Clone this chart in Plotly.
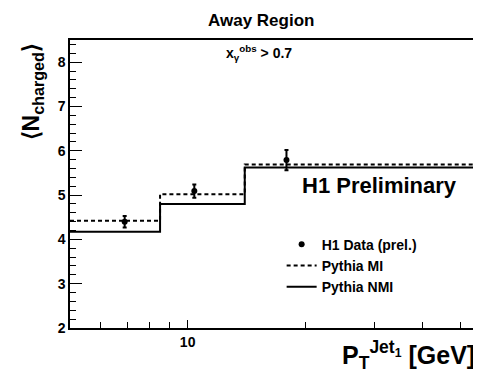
import plotly.graph_objects as go
import math

# Data
bin_edges = [5, 8.5, 14, 55]
nmi_vals = [4.17, 4.80, 5.62]
mi_vals = [4.42, 5.02, 5.69]
data_x = [6.9, 10.4, 17.9]
data_y = [4.40, 5.09, 5.79]
data_err = [0.13, 0.15, 0.23]

x_tick_major = [10]
x_tick_minor = [6, 7, 8, 9, 20, 30, 40, 50]

FONT = "Liberation Sans, Arial, sans-serif"

def step_y(vals):
    return vals + [vals[-1]]

fig = go.Figure()
fig.add_trace(go.Scatter(
    x=data_x, y=data_y, mode="markers",
    marker=dict(color="black", size=6, symbol="circle"),
    error_y=dict(type="data", array=data_err, color="black", thickness=2, width=2),
    name="<b>H1 Data (prel.)</b>",
))
fig.add_trace(go.Scatter(
    x=bin_edges, y=step_y(mi_vals), mode="lines", line_shape="hv",
    line=dict(color="black", width=2, dash="4px,3px"),
    name="<b>Pythia MI</b>",
))
fig.add_trace(go.Scatter(
    x=bin_edges, y=step_y(nmi_vals), mode="lines", line_shape="hv",
    line=dict(color="black", width=2),
    name="<b>Pythia NMI</b>",
))

fig.update_layout(
    width=481, height=374,
    margin=dict(l=62, r=10, t=32, b=54),
    paper_bgcolor="white", plot_bgcolor="white",
    font=dict(family=FONT, color="black"),
    showlegend=True,
    legend=dict(x=0.52, y=0.345, xanchor="left", yanchor="top",
                bgcolor="rgba(0,0,0,0)", font=dict(size=14, family=FONT),
                itemwidth=30, tracegroupgap=0),
    xaxis=dict(
        type="log", range=[math.log10(bin_edges[0]), math.log10(bin_edges[-1])],
        showline=True, linecolor="black", linewidth=1.5, mirror=True,
        showgrid=False, zeroline=False,
        ticks="inside", ticklen=8, tickwidth=1, tickcolor="black",
        tickmode="array", tickvals=x_tick_major, ticktext=["<b>10</b>"],
        tickfont=dict(size=14, family=FONT),
        minor=dict(tickmode="array", tickvals=x_tick_minor, ticks="inside",
                   ticklen=6, tickcolor="black", showgrid=False),
    ),
    yaxis=dict(
        range=[2, 8.5],
        showline=True, linecolor="black", linewidth=1.5, mirror=True,
        showgrid=False, zeroline=False,
        ticks="inside", ticklen=12, tickwidth=1, tickcolor="black",
        tickvals=[2, 3, 4, 5, 6, 7, 8],
        ticktext=["<b>%d</b>" % v for v in [2, 3, 4, 5, 6, 7, 8]],
        tickfont=dict(size=14, family=FONT),
        minor=dict(dtick=0.2, ticks="inside", ticklen=6, tickcolor="black", showgrid=False),
    ),
)

fig.add_annotation(text="<b>Away Region</b>", xref="paper", yref="paper",
                   x=0.47, y=1.0, yshift=20, showarrow=False,
                   font=dict(size=17, family=FONT), xanchor="center", yanchor="middle")
fig.add_annotation(text="<b>x<sub>γ</sub><sup>obs</sup> > 0.7</b>", xref="paper", yref="paper",
                   x=0.465, y=0.955, showarrow=False,
                   font=dict(size=14, family=FONT), xanchor="center", yanchor="middle")
fig.add_annotation(text="<b>H1 Preliminary</b>", xref="paper", yref="paper",
                   x=0.955, y=0.495, showarrow=False,
                   font=dict(size=22, family=FONT), xanchor="right", yanchor="middle")
fig.add_annotation(text="<b>P<sub>T</sub><sup>Jet<sub>1</sub></sup> [GeV]</b>", xref="paper", yref="paper",
                   x=1.0, y=-0.095, showarrow=False,
                   font=dict(size=25, family=FONT), xanchor="right", yanchor="middle")
fig.add_annotation(text="<b>⟨N<sub>charged</sub>⟩</b>", xref="paper", yref="paper",
                   x=-0.092, y=0.82, showarrow=False, textangle=-90,
                   font=dict(size=23, family=FONT), xanchor="center", yanchor="middle")

fig.write_html("out.html")
